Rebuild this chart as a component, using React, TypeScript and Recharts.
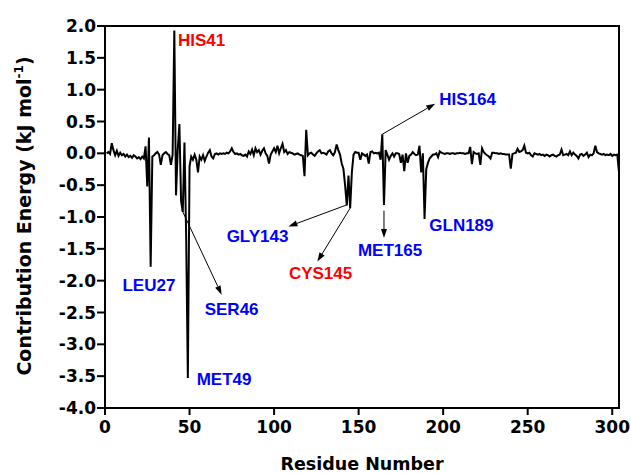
import { LineChart, Line, XAxis, YAxis, ReferenceLine, ReferenceDot, ReferenceArea, Label } from 'recharts'

// per-residue contribution energy (kJ/mol), residue 1..304
const energy: number[] = [
  0.0, 0.02, -0.01, 0.16, 0.05, -0.03, 0.04, -0.04, 0.01, -0.03,
  -0.01, -0.05, -0.02, -0.06, -0.04, -0.07, -0.03, -0.05, -0.08, -0.06,
  -0.09, -0.05, -0.08, 0.11, -0.52, 0.25, -1.78, -0.05, -0.03, 0.0,
  0.02, -0.02, -0.18, -0.03, 0.0, 0.02, -0.01, -0.03, -0.18, -0.02,
  1.93, -0.66, 0.05, 0.46, -0.75, -0.92, 0.17, -1.3, -3.53, -0.2,
  -0.05, -0.1, -0.02, -0.1, -0.3, -0.05, -0.1, -0.03, -0.12, -0.05,
  0.01, 0.05, -0.05, -0.08, -0.01, 0.0, -0.02, 0.0, -0.01, 0.0,
  -0.01, 0.01, 0.0, 0.03, 0.08, 0.02, -0.01, 0.0, -0.02, -0.01,
  -0.03, -0.04, -0.02, -0.05, 0.03, -0.01, 0.06, -0.03, 0.08, 0.02,
  0.05, -0.02, 0.04, 0.08, 0.0, -0.04, -0.16, -0.02, 0.03, 0.08,
  0.02, 0.12, 0.0, 0.08, 0.15, 0.02, 0.05, -0.01, 0.02, 0.01,
  0.0, -0.02, -0.01, 0.0, -0.02, -0.03, -0.04, -0.36, 0.37, -0.03,
  0.0, 0.01, -0.02, -0.04, 0.0, 0.03, 0.05, 0.0, 0.01, 0.0,
  -0.02, 0.03, 0.05, 0.0, -0.03, 0.02, 0.14, 0.05, -0.02, -0.16,
  -0.24, -0.5, -0.82, -0.35, -0.86, -0.3, -0.02, 0.02, 0.01, 0.01,
  -0.1, 0.0, -0.02, -0.04, -0.02, -0.16, 0.02, 0.03, 0.0, 0.01,
  0.0, 0.01, -0.1, 0.3, -0.81, 0.05, -0.02, -0.1, -0.04, 0.0,
  -0.05, 0.0, 0.0, -0.01, -0.15, -0.02, -0.28, 0.0, -0.15, -0.04,
  -0.02, 0.02, -0.01, -0.03, -0.02, 0.12, -0.3, 0.0, -1.03, -0.25,
  -0.15, -0.08, -0.05, -0.02, -0.02, 0.0, -0.06, 0.03, 0.01, 0.0,
  -0.01, 0.0, 0.0, -0.01, 0.0, 0.0, -0.01, 0.0, 0.0, 0.01,
  0.0, 0.0, -0.01, 0.0, 0.0, 0.1, -0.17, 0.02, 0.0, -0.01,
  0.0, -0.18, 0.08, 0.02, -0.01, -0.03, -0.05, -0.08, 0.01, 0.01,
  0.0, 0.0, -0.01, 0.0, -0.01, -0.01, -0.02, -0.02, -0.02, -0.24,
  -0.01, 0.0, 0.01, 0.07, 0.02, 0.03, 0.05, 0.12, 0.01, 0.0,
  0.01, -0.03, -0.05, 0.0, -0.01, -0.02, -0.01, -0.03, -0.02, -0.04,
  -0.02, -0.03, -0.05, -0.03, -0.02, -0.04, -0.05, -0.03, -0.02, 0.06,
  -0.03, -0.02, -0.01, -0.03, 0.03, -0.03, 0.01, -0.02, -0.04, -0.08,
  -0.02, -0.01, -0.04, -0.02, 0.01, -0.06, -0.02, -0.03, 0.0, 0.12,
  0.02, 0.0, -0.01, -0.02, -0.01, -0.03, -0.02, -0.03, -0.01, -0.04,
  -0.02, -0.03, -0.02, -0.3,
]

const xTicks = [0, 50, 100, 150, 200, 250, 300]
const yTicks = [-4, -3.5, -3, -2.5, -2, -1.5, -1, -0.5, 0, 0.5, 1, 1.5, 2]

const RED = '#ff0000'
const BLUE = '#0000ff'

// residue labels, placed in data coordinates (text centre)
const labels = [
  { text: 'HIS41', x: 57.1, y: 1.78, color: RED },
  { text: 'LEU27', x: 26, y: -2.07, color: BLUE },
  { text: 'SER46', x: 74.9, y: -2.46, color: BLUE },
  { text: 'MET49', x: 70.4, y: -3.56, color: BLUE },
  { text: 'GLY143', x: 90.2, y: -1.31, color: BLUE },
  { text: 'CYS145', x: 127.5, y: -1.89, color: RED },
  { text: 'MET165', x: 168.6, y: -1.52, color: BLUE },
  { text: 'GLN189', x: 210.8, y: -1.13, color: BLUE },
  { text: 'HIS164', x: 214.5, y: 0.84, color: BLUE },
]

const arrows = [
  { from: [45.5, -0.89], to: [69, -2.22] },
  { from: [143, -0.81], to: [108.5, -1.15] },
  { from: [145, -0.86], to: [125.6, -1.7] },
  { from: [165, -0.9], to: [165, -1.33] },
  { from: [164, 0.3], to: [195.3, 0.78] },
]

const data = energy.map((v, i) => ({ residue: i + 1, energy: v }))

const FONT = '"DejaVu Sans", sans-serif'

function arrowShape(props: any) {
  const { x1, y1, x2, y2 } = props
  const ang = Math.atan2(y2 - y1, x2 - x1)
  const len = 9
  const half = 3
  const bx = x2 - len * Math.cos(ang)
  const by = y2 - len * Math.sin(ang)
  const px = -Math.sin(ang) * half
  const py = Math.cos(ang) * half
  return (
    <g>
      <line x1={x1} y1={y1} x2={bx} y2={by} stroke="#000" strokeWidth={1} />
      <polygon points={`${x2},${y2} ${bx + px},${by + py} ${bx - px},${by - py}`} fill="#000" />
    </g>
  )
}

function xTitle(props: any) {
  const vb = props.viewBox
  return (
    <text x={vb.x + vb.width / 2} y={470} textAnchor="middle" fontFamily={FONT} fontWeight="bold" fontSize={17.5} fill="#000">
      Residue Number
    </text>
  )
}

function yTitle() {
  const cy = 216
  return (
    <text x={31} y={cy} transform={`rotate(-90 31 ${cy})`} textAnchor="middle" fontFamily={FONT} fontWeight="bold" fontSize={19} fill="#000">
      Contribution Energy (kJ mol
      <tspan dy={-8} fontSize={12}>-1</tspan>
      <tspan dy={8}>)</tspan>
    </text>
  )
}

export default function App() {
  return (
    <div style={{ position: 'absolute', left: 0, top: 0, background: '#fff' }}>
      <LineChart width={631} height={473} data={data} margin={{ top: 26, right: 12, bottom: 35, left: 0 }}>
        <XAxis
          dataKey="residue"
          type="number"
          domain={[0, 304]}
          ticks={xTicks}
          height={30}
          tickSize={7}
          tickMargin={6}
          axisLine={{ stroke: '#000', strokeWidth: 2 }}
          tickLine={{ stroke: '#000', strokeWidth: 2 }}
          tick={{ fill: '#000', fontFamily: FONT, fontWeight: 'bold', fontSize: 17 }}
        >
          <Label content={xTitle} />
        </XAxis>
        <YAxis
          type="number"
          domain={[-4, 2]}
          ticks={yTicks}
          width={105}
          tickSize={8}
          tickMargin={1}
          tickFormatter={(v: number) => v.toFixed(1)}
          axisLine={{ stroke: '#000', strokeWidth: 2 }}
          tickLine={{ stroke: '#000', strokeWidth: 2 }}
          tick={{ fill: '#000', fontFamily: FONT, fontWeight: 'bold', fontSize: 17 }}
        >
          <Label content={yTitle} />
        </YAxis>
        <ReferenceArea x1={0} x2={304} y1={-4} y2={2} fill="none" stroke="#000" strokeWidth={2} ifOverflow="visible" />
        <Line
          type="linear"
          dataKey="energy"
          stroke="#000"
          strokeWidth={2}
          dot={false}
          isAnimationActive={false}
        />
        {arrows.map((a, i) => (
          <ReferenceLine
            key={'a' + i}
            segment={[{ x: a.from[0], y: a.from[1] }, { x: a.to[0], y: a.to[1] }]}
            shape={arrowShape}
            ifOverflow="visible"
          />
        ))}
        {labels.map((l) => (
          <ReferenceDot
            key={l.text}
            x={l.x}
            y={l.y}
            r={0}
            ifOverflow="visible"
            shape={(p: any) => (
              <text
                x={p.cx}
                y={p.cy}
                textAnchor="middle"
                dominantBaseline="central"
                fontFamily='"Liberation Sans", Arial, sans-serif'
                fontWeight="bold"
                fontSize={17}
                fill={l.color}
              >
                {l.text}
              </text>
            )}
          />
        ))}
      </LineChart>
    </div>
  )
}
